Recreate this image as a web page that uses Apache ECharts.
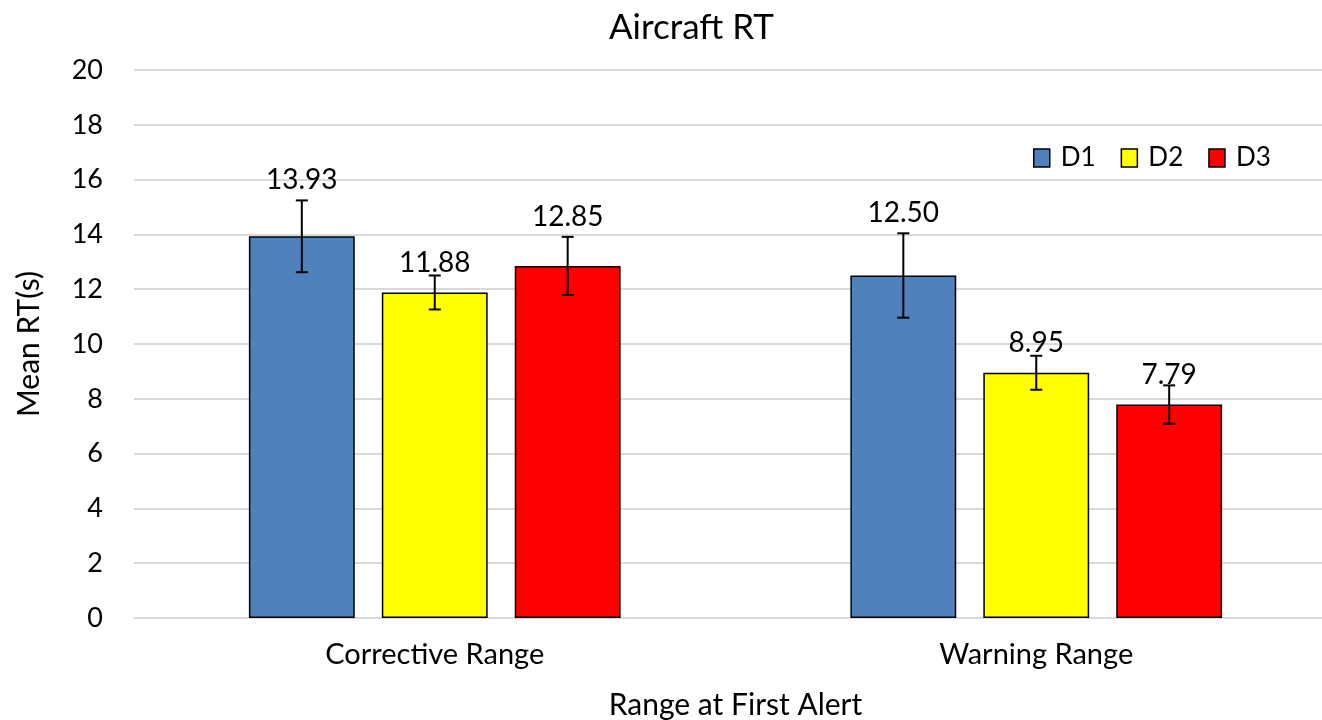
<!DOCTYPE html>
<html><head><meta charset="utf-8">
<script src="https://cdn.jsdelivr.net/npm/echarts@6/dist/echarts.min.js"></script>
<style>html,body{margin:0;padding:0;background:#fff;overflow:hidden}#c{width:1322px;height:720px}</style>
</head><body><div id="c"></div>
<script>
const categories = ['Corrective Range', 'Warning Range'];
const seriesNames = ['D1', 'D2', 'D3'];
const colors = ['#4f81bd', '#ffff00', '#ff0000'];
const d1 = [13.93, 12.50];
const d2 = [11.88, 8.95];
const d3 = [12.85, 7.79];
const err1 = [1.31, 1.54];
const err2 = [0.62, 0.62];
const err3 = [1.06, 0.70];
const yTicks = [0, 2, 4, 6, 8, 10, 12, 14, 16, 18, 20];

const means = [d1, d2, d3];
const errs = [err1, err2, err3];
const FONT = 'Lato';
const BARW = 0.176, GAPW = 0.045;

const chart = echarts.init(document.getElementById('c'));
const series = [];
means.forEach((m, i) => {
  series.push({
    name: seriesNames[i], type: 'bar', data: m,
    barWidth: (BARW * 100) + '%', barGap: (GAPW / BARW * 100) + '%',
    itemStyle: { color: colors[i], borderColor: '#000', borderWidth: 1.5 }
  });
});
means.forEach((m, i) => {
  series.push({
    type: 'custom', z: 5, silent: true,
    data: m.map((v, k) => [k, v, errs[i][k]]),
    renderItem: function (params, api) {
      const ci = api.value(0), v = api.value(1), e = api.value(2);
      const band = api.size([1, 0])[0];
      const off = (i - 1) * band * (BARW + GAPW);
      const c = api.coord([ci, v]);
      const x = c[0] + off;
      const top = api.coord([ci, v + e])[1];
      const bot = api.coord([ci, v - e])[1];
      const cap = 6;
      const st = { stroke: '#000', lineWidth: 2 };
      const errPx = c[1] - top;
      const ly = errPx > 25 ? top - 20 : c[1] - 30;
      return {
        type: 'group', children: [
          { type: 'line', shape: { x1: x, y1: top, x2: x, y2: bot }, style: st },
          { type: 'line', shape: { x1: x - cap, y1: top, x2: x + cap, y2: top }, style: st },
          { type: 'line', shape: { x1: x - cap, y1: bot, x2: x + cap, y2: bot }, style: st },
          { type: 'text', style: { x: x, y: ly, text: v.toFixed(2), fill: '#000',
            font: '28px ' + FONT, textAlign: 'center', textVerticalAlign: 'middle' } }
        ]
      };
    }
  });
});

chart.setOption({
  animation: false,
  backgroundColor: '#fff',
  title: { text: 'Aircraft RT', left: 604, top: 5,
    textStyle: { fontFamily: FONT, fontSize: 35, fontWeight: 'normal', color: '#000' } },
  legend: {
    data: seriesNames, left: 1028, top: 140, itemWidth: 16, itemHeight: 18, itemGap: 25,
    icon: 'rect',
    itemStyle: { borderColor: '#000', borderWidth: 1.5 },
    textStyle: { fontFamily: FONT, fontSize: 26, color: '#000', padding: [0, 0, 0, 6] }
  },
  grid: { left: 134, right: -15, top: 70, bottom: 102, outerBoundsMode: 'none', containLabel: false },
  xAxis: {
    type: 'category', data: categories,
    name: 'Range at First Alert', nameLocation: 'middle', nameGap: 72,
    nameTextStyle: { fontFamily: FONT, fontSize: 30, color: '#000' },
    axisLine: { lineStyle: { color: '#d9d9d9', width: 2 } },
    axisTick: { show: false },
    axisLabel: { fontFamily: FONT, fontSize: 29, color: '#000', margin: 22 }
  },
  yAxis: {
    type: 'value', min: 0, max: 20, interval: 2,
    name: 'Mean RT(s)', nameLocation: 'middle', nameGap: 90,
    nameTextStyle: { fontFamily: FONT, fontSize: 30, color: '#000' },
    axisLine: { show: false }, axisTick: { show: false },
    splitLine: { lineStyle: { color: '#d9d9d9', width: 2 } },
    axisLabel: { fontFamily: FONT, fontSize: 27, color: '#000', margin: 31,
      formatter: v => yTicks.includes(v) ? String(v) : '' }
  },
  series: series
});
</script></body></html>
